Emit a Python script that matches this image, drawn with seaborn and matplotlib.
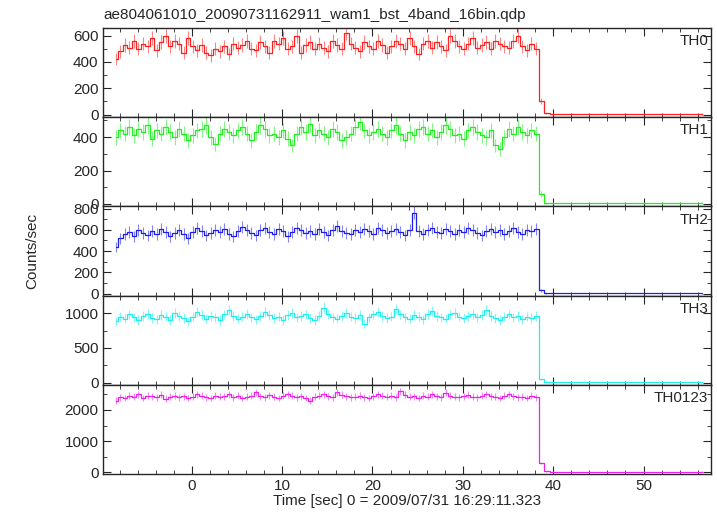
import numpy as np
import pandas as pd
import matplotlib
matplotlib.use("Agg")
import matplotlib.pyplot as plt
import seaborn as sns
from matplotlib.ticker import MultipleLocator

sns.set_style("ticks")
plt.rcParams['font.family'] = ['Liberation Sans', 'DejaVu Sans']

t_start, t_step = -8.4, 0.5
th0 = [420,480,530,510,560,500,540,520,580,490,550,600,520,560,540,470,580,520,490,530,
       470,450,500,480,520,460,540,510,530,560,500,490,550,520,470,560,540,580,500,520,
       600,470,530,550,500,540,510,480,560,530,500,620,540,510,480,550,520,500,560,530,
       470,520,560,540,500,580,520,460,540,560,510,550,520,490,600,560,520,500,540,580,
       510,530,550,500,560,540,520,510,560,600,520,490,540,500]
th1 = [400,440,420,460,410,450,430,470,390,440,420,460,430,400,450,420,380,410,440,450,
       470,400,360,420,450,430,410,440,460,420,380,430,470,450,410,420,400,440,390,350,
       420,460,430,480,410,440,420,400,450,430,380,400,420,460,490,440,410,430,450,420,
       400,440,470,420,380,430,410,450,460,420,440,400,430,470,450,410,420,390,440,460,
       430,410,400,440,350,330,400,450,420,460,430,410,440,420]
th2 = [440,520,560,580,540,600,570,550,590,560,610,580,540,570,600,560,520,580,620,590,
       550,570,600,580,610,560,540,590,630,600,570,550,600,620,580,560,610,590,540,580,
       620,600,570,590,560,610,580,550,600,640,590,570,560,600,580,610,590,560,620,600,
       570,590,610,580,550,600,760,590,560,600,620,580,570,610,590,560,600,580,620,600,
       570,550,590,610,580,600,560,590,620,580,560,600,590,610]
th3 = [880,950,920,980,940,900,960,990,930,910,970,950,900,1000,960,930,880,950,1010,970,
       920,960,940,900,980,1050,960,920,950,990,940,910,960,1020,970,930,950,900,970,1000,
       940,960,980,930,900,960,1080,990,940,920,960,1000,950,930,970,850,940,980,1010,960,
       930,950,1060,980,940,920,970,950,910,990,1030,960,940,920,980,1000,950,930,960,990,
       940,970,1050,960,930,900,950,980,940,960,910,950,930,960]
th0123 = [2300,2400,2380,2450,2420,2500,2380,2460,2440,2400,2480,2360,2420,2460,2400,2440,2380,2420,2500,2450,
          2400,2380,2460,2420,2440,2500,2400,2450,2380,2420,2460,2560,2440,2400,2470,2420,2380,2450,2500,2460,
          2400,2440,2380,2300,2420,2460,2500,2440,2400,2560,2480,2440,2400,2420,2460,2400,2380,2440,2500,2450,
          2420,2460,2400,2600,2480,2420,2440,2380,2460,2420,2500,2440,2400,2550,2460,2420,2400,2440,2480,2420,
          2400,2460,2500,2440,2420,2380,2460,2500,2440,2400,2420,2380,2460,2400]
post_t = [38.7, 39.2, 40, 42, 44, 46, 48, 50, 52, 54, 56.5]
post_th0 = [100, 8, 5, 5, 5, 5, 5, 5, 5, 5, 5]
post_th1 = [60, 6, 4, 4, 4, 4, 4, 4, 4, 4, 4]
post_th2 = [30, 4, 3, 3, 3, 3, 3, 3, 3, 3, 3]
post_th3 = [50, 10, 8, 8, 8, 8, 8, 8, 8, 8, 8]
post_th0123 = [300, 30, 25, 25, 24, 25, 25, 24, 25, 25, 25]

labels = ["TH0", "TH1", "TH2", "TH3", "TH0123"]
series = [th0, th1, th2, th3, th0123]
posts = [post_th0, post_th1, post_th2, post_th3, post_th0123]
colors = ["#ff2020", "#20ee20", "#2020ee", "#20eeee", "#ee20ee"]
ylims = [(-20, 660), (-15, 520), (-20, 820), (-30, 1250), (-60, 2800)]
majors = [200, 200, 200, 500, 1000]

fig, axes = plt.subplots(5, 1, sharex=True, figsize=(7.17, 5.16), dpi=100)
fig.subplots_adjust(left=0.144, right=0.992, top=0.946, bottom=0.081, hspace=0)
for ax, lab, vals, post, c, yl, mj in zip(axes, labels, series, posts, colors, ylims, majors):
    t = [t_start + i * t_step for i in range(len(vals))]
    df = pd.DataFrame({"t": t + post_t, "v": list(vals) + post})
    err = np.sqrt(np.array(df["v"]) / 0.2)
    ax.errorbar(df["t"], df["v"], yerr=err, fmt="none", ecolor=c, alpha=0.55, lw=0.8)
    sns.lineplot(data=df, x="t", y="v", ax=ax, color=c, lw=0.9, drawstyle="steps-mid")
    ax.set_ylim(*yl)
    ax.yaxis.set_major_locator(MultipleLocator(mj))
    ax.yaxis.set_minor_locator(MultipleLocator(mj / 2))
    ax.set_xlim(-9.8, 57.5)
    ax.xaxis.set_major_locator(MultipleLocator(10))
    ax.xaxis.set_minor_locator(MultipleLocator(2))
    ax.tick_params(which="both", direction="in", top=True, right=True, labelsize=11)
    ax.tick_params(which="major", length=6)
    ax.tick_params(which="minor", length=3)
    ax.set_ylabel("")
    ax.set_xlabel("")
    ax.text(0.995, 0.93, lab, transform=ax.transAxes, ha="right", va="top", fontsize=11)
    for s in ax.spines.values():
        s.set_linewidth(1.0)
axes[-1].set_xlabel("Time [sec] 0 = 2009/07/31 16:29:11.323", fontsize=11, labelpad=1)
fig.text(0.045, 0.513, "Counts/sec", rotation=90, ha="center", va="center", fontsize=11)
fig.text(0.144, 0.958, "ae804061010_20090731162911_wam1_bst_4band_16bin.qdp", ha="left", va="bottom", fontsize=11)
fig.savefig("out.png")
